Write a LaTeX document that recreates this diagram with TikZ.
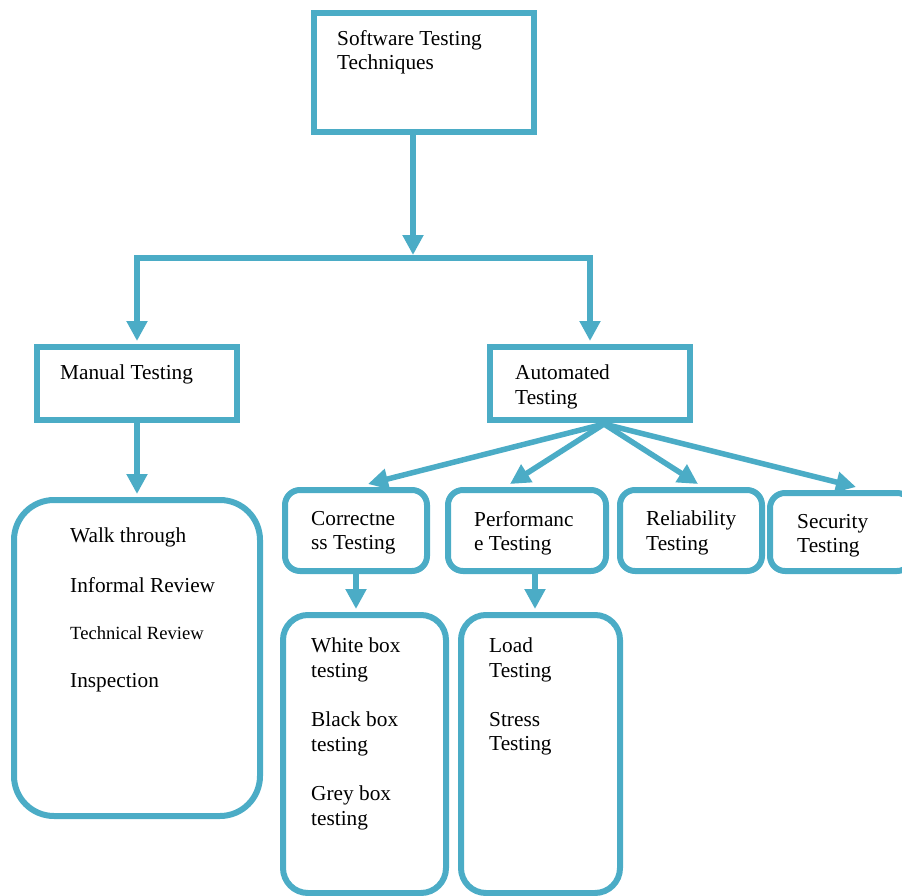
\documentclass[tikz,border=0pt]{standalone}
\usepackage{fontspec}
\setmainfont{Liberation Serif}
\usepackage{xcolor}
\usetikzlibrary{arrows.meta}
\definecolor{boxblue}{HTML}{4BACC6}

\begin{document}
\begin{tikzpicture}[x=1pt, y=-1pt,
    sqbox/.style={rectangle, draw=boxblue, line width=6pt, inner sep=0pt},
    rndbox/.style={rectangle, draw=boxblue, line width=6pt, inner sep=0pt, rounded corners=#1},
    txt/.style={anchor=north west, inner sep=0pt, align=left, font=\fontsize{21.3}{24.5}\selectfont},
    arrow/.style={draw=boxblue, line width=5.5pt, -{Triangle[width=20pt,length=20pt]}}
]
    \useasboundingbox (0,0) rectangle (902,896);
    \clip (0,0) rectangle (902,896);

    \node[sqbox, minimum width=220pt, minimum height=119pt] (tech) at (424,72.5) {};
    \node[txt] (techtxt) at (337,30) {Software Testing\\Techniques};

    \node[sqbox, minimum width=200pt, minimum height=73pt] (manual) at (137,383.5) {};
    \node[txt] (mantxt) at (60,365) {Manual Testing};
    \node[sqbox, minimum width=200pt, minimum height=73pt] (auto) at (590,383.5) {};
    \node[txt] (autotxt) at (515,365) {Automated\\Testing};

    \node[rndbox=40pt, minimum width=246pt, minimum height=316pt] (walk) at (137,658) {};
    \node[txt] (walktxt) at (70,528) {Walk through};
    \node[txt] (infotxt) at (70,577) {Informal Review};
    \node[txt, font=\fontsize{18.6}{21}\selectfont] (techrtxt) at (70,626) {Technical Review};
    \node[txt] (insptxt) at (70,673) {Inspection};

    \node[rndbox=15pt, minimum width=142pt, minimum height=81pt] (corr) at (356,530.5) {};
    \node[txt] (corrtxt) at (311,511) {Correctne\\ss Testing};
    \node[rndbox=15pt, minimum width=158pt, minimum height=81pt] (perf) at (527,530.5) {};
    \node[txt] (perftxt) at (474,511) {Performanc\\e Testing};
    \node[rndbox=15pt, minimum width=142pt, minimum height=81pt] (rel) at (691,530.5) {};
    \node[txt] (reltxt) at (646,511) {Reliability\\Testing};
    \node[rndbox=15pt, minimum width=142pt, minimum height=78pt] (sec) at (841,532) {};
    \node[txt] (sectxt) at (797,514) {Security\\Testing};

    \node[rndbox=25pt, minimum width=163pt, minimum height=278pt] (white) at (364.5,754) {};
    \node[txt] (whitetxt) at (311,638) {White box\\testing};
    \node[txt] (blacktxt) at (311,712) {Black box\\testing};
    \node[txt] (greytxt) at (311,786) {Grey box\\testing};
    \node[rndbox=25pt, minimum width=159pt, minimum height=278pt] (load) at (540.5,754) {};
    \node[txt] (loadtxt) at (489,638) {Load\\Testing};
    \node[txt] (stresstxt) at (489,712) {Stress\\Testing};

    \coordinate (split) at (413,258);
    \coordinate (fan) at (604,424);

    \draw[arrow] ([xshift=-11pt]tech.south) -- ([yshift=3pt]split);
    \draw[arrow] (split) -| ([yshift=3pt]manual.north);
    \draw[arrow] (split) -| ([yshift=3pt]auto.north);

    \draw[arrow] (manual.south) -- ([yshift=3pt]walk.north);

    \draw[arrow] (fan) -- ([shift={(12,-3)}]corr.north);
    \draw[arrow] (fan) -- ([shift={(-17,-3)}]perf.north);
    \draw[arrow] (fan) -- ([shift={(7,-3)}]rel.north);
    \draw[arrow] (fan) -- ([shift={(15,-3)}]sec.north);

    \draw[arrow] (corr.south) -- ([yshift=3pt]corr.south |- white.north);
    \draw[arrow] ([xshift=8pt]perf.south) -- ([xshift=8pt,yshift=3pt]perf.south |- load.north);
\end{tikzpicture}
\end{document}
